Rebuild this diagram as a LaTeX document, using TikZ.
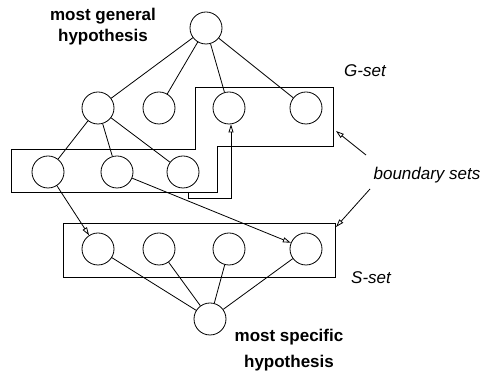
\documentclass[tikz,border=0pt]{standalone}
\usepackage{fontspec}
\setmainfont{Liberation Sans}
\usetikzlibrary{arrows.meta}
\begin{document}
\begin{tikzpicture}[x=1pt,y=-1pt,line width=0.8pt,
  hyp/.style={circle,draw,minimum size=32pt,inner sep=0pt},
  bold/.style={font=\fontsize{17}{21}\selectfont\bfseries,align=center},
  ital/.style={font=\fontsize{17}{21}\selectfont\itshape},
  arr/.style={-{Triangle[open,length=8pt,width=5pt]}}]
\useasboundingbox (0,0) rectangle (483,371);
% nodes
\node[hyp] (top) at (206,28) {};
\node[hyp] (g1) at (98,108) {};
\node[hyp] (g2) at (159,108) {};
\node[hyp] (g3) at (229,108) {};
\node[hyp] (g4) at (306,108) {};
\node[hyp] (m1) at (48,172) {};
\node[hyp] (m2) at (117,172) {};
\node[hyp] (m3) at (183,172) {};
\node[hyp] (s1) at (98,249) {};
\node[hyp] (s2) at (159,249) {};
\node[hyp] (s3) at (229,249) {};
\node[hyp] (s4) at (306,249) {};
\node[hyp] (bot) at (210,319) {};
% labels
\node[bold] (lgen) at (103,27) {most general\\hypothesis};
\node[bold] (lspec) at (289,350) {most specific\\[5pt]hypothesis};
\node[ital] (lg) at (365,71) {G-set};
\node[ital] (ls) at (371,278) {S-set};
\node[ital] (lb) at (427,175) {boundary sets};
% boxes
\draw (195,87) -- (333,87) -- (333,146) -- (217,146) -- (217,192) -- (11,192) -- (11,149) -- (195,149) -- cycle;
\draw (63,223) rectangle (335,277);
% edges
\foreach \n in {g1,g2,g3,g4} \draw (top) -- (\n);
\foreach \n in {m1,m2,m3} \draw (g1) -- (\n);
\foreach \n in {s1,s2,s3,s4} \draw (bot) -- (\n);
\draw[arr] (m1) -- (s1);
\draw[arr] (m2) -- (s4);
\coordinate (c1) at (188,192);
\coordinate (c2) at (231,198);
\draw[arr] (c1) |- (c2) -- (c2 |- g3.south);
\coordinate (b1) at (366,155);
\coordinate (b2) at (370,189);
\coordinate (t1) at (336,131);
\coordinate (t2) at (336,227);
\draw[arr] (b1) -- (t1);
\draw[arr] (b2) -- (t2);
\end{tikzpicture}
\end{document}
